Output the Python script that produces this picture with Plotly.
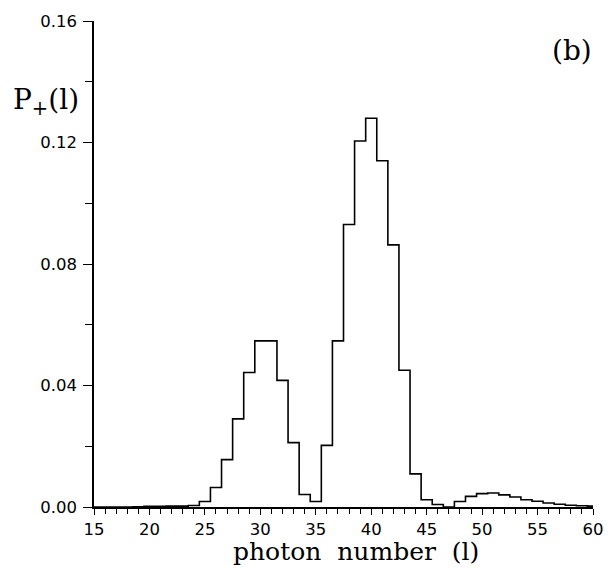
import plotly.graph_objects as go

# photon number l (bin centres)
photon_number = list(range(15, 61))
# P+(l)
p_plus = [
    0.0000, 0.0000, 0.0000, 0.0000, 0.0001,  # 15-19
    0.0002, 0.0002, 0.0003, 0.0003, 0.0005,  # 20-24
    0.0018, 0.0064, 0.0156, 0.0290, 0.0443,  # 25-29
    0.0547, 0.0547, 0.0417, 0.0212, 0.0041,  # 30-34
    0.0018, 0.0203, 0.0547, 0.0930, 0.1205,  # 35-39
    0.1280, 0.1140, 0.0863, 0.0450, 0.0109,  # 40-44
    0.0024, 0.0008, 0.0000, 0.0018, 0.0035,  # 45-49
    0.0044, 0.0046, 0.0040, 0.0033, 0.0024,  # 50-54
    0.0019, 0.0013, 0.0009, 0.0006, 0.0004,  # 55-59
    0.0003,                                  # 60
]

x_ticks = [15, 20, 25, 30, 35, 40, 45, 50, 55, 60]
y_ticks = [0.00, 0.04, 0.08, 0.12, 0.16]

fig = go.Figure()
fig.add_trace(go.Scatter(
    x=photon_number, y=p_plus, mode="lines",
    line=dict(shape="hvh", color="black", width=1.6),
    showlegend=False, hoverinfo="skip",
))

tick_font = dict(family="DejaVu Sans, sans-serif", size=16.5, color="black")
serif = "DejaVu Serif, serif"

fig.update_layout(
    width=616, height=568,
    margin=dict(l=94, r=19, t=19, b=61),
    paper_bgcolor="white", plot_bgcolor="white",
    xaxis=dict(
        range=[15, 60], tickvals=x_ticks, ticktext=[str(v) for v in x_ticks],
        showline=True, linecolor="black", linewidth=1.6, mirror=False,
        ticks="outside", ticklen=6, tickwidth=1.3, tickcolor="black",
        minor=dict(dtick=1, tick0=15, ticks="outside", ticklen=5, tickwidth=1.2, tickcolor="black"),
        showgrid=False, zeroline=False, tickfont=tick_font, ticklabelstandoff=0,
    ),
    yaxis=dict(
        range=[0, 0.16], tickvals=y_ticks, ticktext=["%.2f" % v for v in y_ticks],
        showline=True, linecolor="black", linewidth=1.6, mirror=False,
        ticks="outside", ticklen=9, tickwidth=1.3, tickcolor="black",
        minor=dict(dtick=0.02, tick0=0, ticks="outside", ticklen=7, tickwidth=1.2, tickcolor="black"),
        showgrid=False, zeroline=False, tickfont=tick_font, ticklabelstandoff=3,
    ),
    annotations=[
        dict(text="photon  number  (l)", xref="paper", yref="paper", x=0.5245, y=-0.091,
             xanchor="center", yanchor="middle", showarrow=False, borderpad=0,
             font=dict(family=serif, size=25, color="black")),
        dict(text="P<sub>+</sub>(l)", xref="paper", yref="paper", x=-0.167, y=0.835,
             xanchor="left", yanchor="middle", showarrow=False,
             font=dict(family=serif, size=28, color="black")),
        dict(text="(b)", xref="paper", yref="paper", x=1.003, y=0.94,
             xanchor="right", yanchor="middle", showarrow=False,
             font=dict(family=serif, size=28, color="black")),
    ],
)

fig.write_html("out.html")
